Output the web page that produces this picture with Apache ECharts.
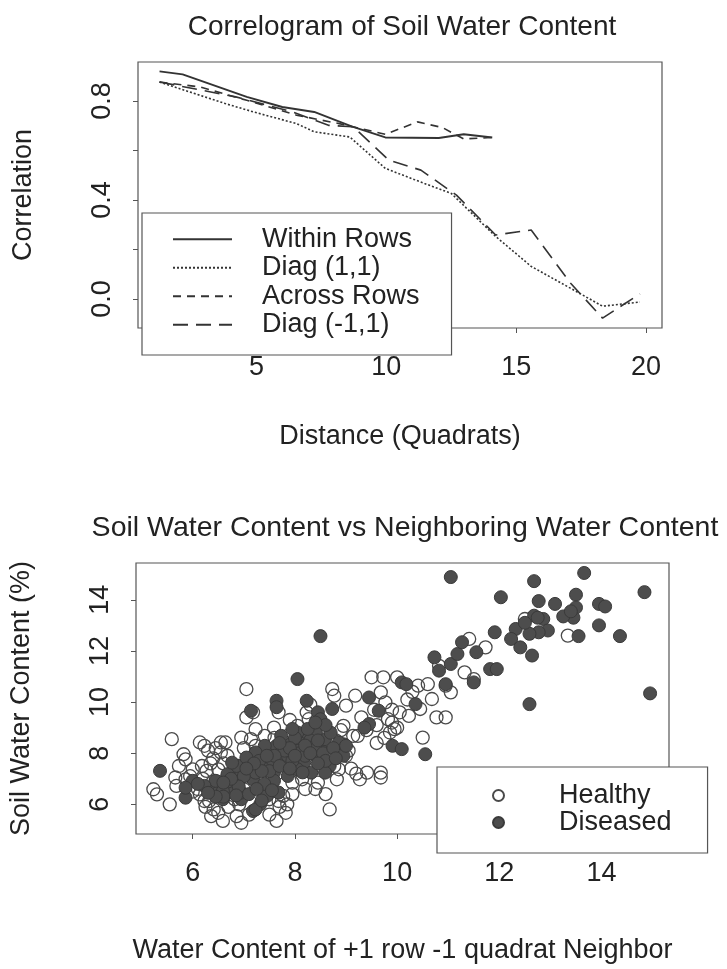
<!DOCTYPE html>
<html>
<head>
<meta charset="utf-8">
<title>Soil water content</title>
<script src="https://cdn.jsdelivr.net/npm/echarts@6.0.0/dist/echarts.min.js"></script>
<style>
  html, body { margin: 0; padding: 0; background: #fff; }
  #main { width: 727px; height: 969px; }
</style>
</head>
<body>
<div id="main"></div>
<script>
// correlogram lines, [distance, correlation]
var withinRows = [[1.26,0.920],[2.15,0.908],[4.62,0.817],[5.99,0.776],[7.22,0.756],[8.66,0.698],[9.96,0.653],[12.02,0.651],[12.98,0.666],[14.08,0.653]];
var diag11 = [[1.26,0.877],[3.79,0.790],[4.89,0.756],[6.54,0.709],[7.22,0.676],[8.59,0.655],[9.96,0.528],[11.47,0.467],[12.50,0.427],[14.21,0.253],[15.58,0.132],[17.09,0.044],[18.33,-0.029],[19.77,-0.012]];
var acrossRows = [[1.26,0.877],[2.83,0.857],[4.62,0.803],[6.54,0.743],[8.18,0.709],[9.96,0.666],[11.20,0.716],[12.16,0.693],[12.98,0.647],[14.08,0.653]];
var diagM11 = [[1.26,0.877],[4.20,0.817],[6.40,0.756],[7.77,0.702],[8.73,0.696],[10.10,0.561],[11.33,0.521],[12.70,0.420],[14.21,0.259],[15.58,0.279],[17.09,0.065],[18.33,-0.077],[19.77,0.021]];
var distTicks = [5, 10, 15, 20];
var corrTicks = [0, 0.2, 0.4, 0.6, 0.8];
var corrLabels = [0, 0.4, 0.8];

// scatter, [neighbour water content, water content]
var healthy = [[5.23,6.59],[5.30,6.39],[5.55,6.00],[5.59,8.55],[5.82,7.96],[5.86,7.76],[5.66,7.05],[5.68,6.72],[6.14,8.42],[6.23,8.29],[6.27,7.31],[6.18,7.50],[6.14,6.39],[6.32,6.13],[6.36,5.54],[6.59,5.35],[6.41,5.80],[6.50,7.37],[6.55,8.42],[6.64,8.42],[6.68,7.90],[6.55,8.03],[6.77,7.24],[6.82,6.20],[6.91,6.00],[6.95,5.28],[7.00,6.59],[7.05,10.51],[7.05,9.40],[6.95,8.61],[7.18,9.60],[7.23,8.94],[7.23,8.29],[7.41,8.68],[7.45,7.90],[7.59,9.00],[7.68,9.60],[7.77,6.33],[7.82,5.67],[7.64,5.35],[7.95,6.85],[8.14,6.98],[8.23,9.60],[8.27,9.33],[8.14,8.29],[8.45,6.85],[8.68,5.80],[8.73,10.51],[8.77,10.25],[8.77,7.50],[8.82,6.98],[8.95,9.07],[9.00,9.86],[9.18,10.25],[9.23,8.68],[9.27,6.98],[9.41,7.24],[9.50,10.97],[9.73,10.97],[9.68,10.38],[9.68,7.24],[9.68,7.05],[9.77,9.99],[9.82,9.33],[9.86,8.81],[9.95,8.94],[10.00,10.97],[10.05,9.60],[10.23,9.46],[10.41,10.64],[10.45,9.73],[10.68,10.12],[10.77,9.40],[10.95,9.40],[10.50,8.61],[10.82,11.42],[10.95,10.64],[11.05,10.38],[11.32,11.16],[11.41,12.47],[11.50,10.90],[11.73,12.14],[12.50,13.25],[13.34,12.60],[6.68,6.72],[6.77,6.90],[7.14,8.55],[7.32,6.98],[7.68,7.24],[7.86,8.68],[8.05,9.07],[8.41,9.07],[8.50,7.50],[8.59,7.90],[8.68,8.03],[8.86,7.37],[9.00,7.90],[9.14,8.68],[9.05,8.10],[7.68,6.13],[6.23,6.13],[6.50,5.67],[6.86,5.54],[7.85,6.00],[6.00,7.37],[5.86,6.98],[5.73,7.50],[6.40,7.80],[6.30,8.10],[7.00,8.20],[7.60,8.60],[8.90,8.90],[9.30,9.40],[9.55,9.70],[9.90,9.20],[8.40,6.60],[7.50,6.20],[6.10,6.60],[6.90,7.50],[8.30,9.90],[9.60,8.40],[10.20,10.10],[7.90,9.30],[6.40,6.90],[6.80,7.00],[6.20,7.00],[6.35,7.60],[6.45,8.20],[6.60,7.60],[6.00,6.50],[5.95,7.10],[6.25,5.90],[6.70,5.90],[7.10,5.60],[7.50,5.60],[7.70,5.90],[7.95,6.40],[8.20,6.60],[8.60,6.40],[9.10,7.40],[9.20,7.20],[8.80,8.50],[8.50,8.90],[9.40,8.90],[9.60,9.10],[9.75,8.60],[10.00,9.00],[9.90,9.70],[10.30,10.40],[10.60,10.70]];
var diseased = [[11.05,14.89],[12.68,14.73],[13.66,15.05],[14.84,14.30],[12.03,14.10],[12.77,13.95],[13.09,13.84],[13.95,13.84],[14.07,13.74],[13.50,14.20],[13.50,13.70],[13.45,13.30],[13.25,13.35],[13.40,13.55],[13.95,13.00],[14.36,12.58],[13.55,12.58],[14.95,10.34],[12.59,9.92],[8.50,12.58],[12.64,11.82],[11.91,12.73],[12.32,12.86],[12.23,12.47],[12.41,12.14],[12.68,13.38],[12.86,13.25],[12.95,12.80],[12.77,12.73],[12.59,12.67],[12.50,13.10],[12.75,13.30],[10.73,11.75],[10.82,11.23],[10.95,10.70],[11.05,11.49],[11.18,11.88],[11.27,12.34],[11.55,11.95],[11.50,10.77],[11.82,11.29],[11.95,11.29],[10.09,10.77],[10.18,10.70],[10.36,9.92],[9.91,8.29],[10.09,8.16],[10.55,7.96],[9.45,10.18],[9.64,9.66],[9.45,9.14],[9.36,9.00],[8.95,8.35],[8.95,7.90],[8.73,9.73],[8.45,9.60],[8.50,9.33],[8.23,10.05],[8.05,10.90],[7.64,10.05],[7.64,9.80],[7.14,9.66],[5.36,7.31],[5.86,6.26],[6.00,6.92],[6.36,6.59],[6.50,6.46],[6.59,6.20],[6.77,6.46],[6.82,6.92],[6.95,6.20],[6.95,7.24],[6.86,7.50],[7.14,7.50],[7.18,6.98],[7.23,7.24],[7.27,7.90],[7.41,7.50],[7.50,8.03],[7.55,7.76],[7.59,7.24],[7.68,8.29],[7.77,7.57],[7.86,7.90],[7.95,8.42],[8.05,8.09],[8.14,8.68],[8.18,7.63],[8.27,8.29],[8.36,8.68],[8.41,7.90],[8.50,8.16],[8.59,8.55],[8.68,7.50],[8.59,7.24],[8.32,7.24],[7.86,7.11],[7.59,6.92],[7.45,6.33],[7.32,6.00],[7.18,5.74],[7.23,5.80],[6.95,6.46],[6.68,7.18],[6.59,6.52],[8.86,8.42],[9.00,8.29],[7.68,6.46],[8.05,7.37],[7.64,8.29],[7.73,8.68],[8.23,8.81],[8.41,8.81],[8.05,8.81],[7.41,8.29],[7.23,8.03],[7.05,7.83],[6.77,7.63],[6.45,6.92],[6.23,6.72],[5.86,6.65],[6.10,6.80],[7.95,7.70],[8.10,8.00],[7.80,8.10],[8.20,7.90],[8.30,8.50],[7.30,7.70],[7.00,7.10],[6.70,6.90],[6.90,6.70],[7.50,7.30],[8.00,8.60],[8.40,8.30],[8.70,8.80],[7.10,6.40],[7.40,6.80],[6.60,6.30],[8.60,9.10],[7.60,7.90],[7.70,7.50],[7.90,8.20],[8.00,7.90],[8.20,8.30],[8.30,8.00],[8.45,8.50],[8.55,8.00],[8.60,7.70],[7.45,7.90],[7.35,7.30],[7.20,7.60],[7.05,7.40],[6.75,7.00],[6.60,6.85],[6.45,6.30],[6.30,6.45],[6.85,6.35],[7.25,6.60],[7.35,6.15],[7.55,6.55],[7.90,7.40],[8.15,7.25],[8.45,7.60],[8.75,8.20],[8.80,7.80],[8.25,8.95],[8.40,9.20],[7.95,8.95],[7.70,8.40]];
var waterTicks = [6, 8, 10, 12, 14];

var font = 'Liberation Sans, Arial, Helvetica, sans-serif';
var ink = '#222';
var lineInk = '#333';

function valueAxis(gridIndex, min, max, ticks, labels, fmt, extra) {
  var ax = {
    type: 'value', gridIndex: gridIndex, min: min, max: max,
    splitLine: { show: false },
    axisLine: { show: false, onZero: false },
    axisTick: { show: true, inside: false, length: 5, customValues: ticks, lineStyle: { color: '#555', width: 1 } },
    axisLabel: { show: true, customValues: labels, margin: 26, color: ink, fontSize: 27, fontFamily: font, formatter: fmt },
    nameLocation: 'middle',
    nameTextStyle: { color: ink, fontSize: 27, fontFamily: font }
  };
  for (var k in extra) {
    if (k === 'axisLabel') {
      for (var j in extra[k]) ax.axisLabel[j] = extra[k][j];
    } else {
      ax[k] = extra[k];
    }
  }
  return ax;
}

var chart = echarts.init(document.getElementById('main'), null, { renderer: 'canvas' });
chart.setOption({
  backgroundColor: '#fff',
  animation: false,
  title: [
    { text: 'Correlogram of Soil Water Content', left: 402, top: 13, textAlign: 'center', padding: 0,
      textStyle: { color: ink, fontSize: 28, fontWeight: 'normal', fontFamily: font } },
    { text: 'Soil Water Content vs Neighboring Water Content', left: 405, top: 514, textAlign: 'center', padding: 0,
      textStyle: { color: ink, fontSize: 28.5, fontWeight: 'normal', fontFamily: font } }
  ],
  grid: [
    { left: 138, top: 62, width: 524, height: 266, show: true, borderColor: '#555', borderWidth: 1.2,
      backgroundColor: 'transparent', containLabel: false, outerBoundsMode: 'none' },
    { left: 136, top: 563, width: 533, height: 271, show: true, borderColor: '#555', borderWidth: 1.2,
      backgroundColor: 'transparent', containLabel: false, outerBoundsMode: 'none' }
  ],
  xAxis: [
    valueAxis(0, 0.43, 20.62, distTicks, distTicks, function (v) { return String(v); },
      { name: 'Distance (Quadrats)', nameGap: 95 }),
    valueAxis(1, 4.89, 15.32, waterTicks, waterTicks, function (v) { return String(v); },
      { name: 'Water Content of +1 row -1 quadrat Neighbor', nameGap: 103 })
  ],
  yAxis: [
    valueAxis(0, -0.117, 0.958, corrTicks, corrLabels, function (v) { return v.toFixed(1); },
      { name: 'Correlation', nameGap: 101, axisLabel: { rotate: 90, margin: 22 } }),
    valueAxis(1, 4.84, 15.44, waterTicks, waterTicks, function (v) { return String(v); },
      { name: 'Soil Water Content (%)', nameGap: 101, axisLabel: { rotate: 90, margin: 22 } })
  ],
  legend: [
    { data: ['Within Rows', 'Diag (1,1)', 'Across Rows', 'Diag (-1,1)'],
      orient: 'vertical', left: 142, top: 213, itemGap: 0, itemWidth: 59, itemHeight: 14,
      padding: [12, 32, 16, 30], backgroundColor: '#fff', borderColor: '#555', borderWidth: 1.2,
      borderRadius: 0, selectedMode: false, z: 10, itemStyle: { opacity: 0 },
      textStyle: { color: ink, fontSize: 27, fontFamily: font, lineHeight: 28.5, padding: [0, 0, 0, 25] } },
    { data: ['Healthy', 'Diseased'],
      orient: 'vertical', left: 437, top: 767, itemGap: 0, itemWidth: 11, itemHeight: 11,
      padding: [15, 36, 17, 55], backgroundColor: '#fff', borderColor: '#555', borderWidth: 1.2,
      borderRadius: 0, selectedMode: false, z: 10,
      textStyle: { color: ink, fontSize: 27, fontFamily: font, lineHeight: 27, padding: [0, 0, 0, 50] } }
  ],
  series: [
    { name: 'Within Rows', type: 'line', xAxisIndex: 0, yAxisIndex: 0, data: withinRows,
      symbol: 'none', lineStyle: { color: lineInk, width: 1.9, type: 'solid' }, itemStyle: { color: lineInk } },
    { name: 'Diag (1,1)', type: 'line', xAxisIndex: 0, yAxisIndex: 0, data: diag11,
      symbol: 'none', lineStyle: { color: lineInk, width: 1.6, type: [2, 2] }, itemStyle: { color: lineInk } },
    { name: 'Across Rows', type: 'line', xAxisIndex: 0, yAxisIndex: 0, data: acrossRows,
      symbol: 'none', lineStyle: { color: lineInk, width: 1.6, type: [8, 6] }, itemStyle: { color: lineInk } },
    { name: 'Diag (-1,1)', type: 'line', xAxisIndex: 0, yAxisIndex: 0, data: diagM11,
      symbol: 'none', lineStyle: { color: lineInk, width: 1.6, type: [15, 8] }, itemStyle: { color: lineInk } },
    { name: 'Healthy', type: 'scatter', xAxisIndex: 1, yAxisIndex: 1, data: healthy,
      symbol: 'circle', symbolSize: 13,
      itemStyle: { color: 'rgba(255,255,255,0)', borderColor: '#4a4a4a', borderWidth: 1.3, opacity: 1 } },
    { name: 'Diseased', type: 'scatter', xAxisIndex: 1, yAxisIndex: 1, data: diseased,
      symbol: 'circle', symbolSize: 13,
      itemStyle: { color: '#4d4d4d', borderColor: '#3a3a3a', borderWidth: 1, opacity: 1 } }
  ]
});
</script>
</body>
</html>
